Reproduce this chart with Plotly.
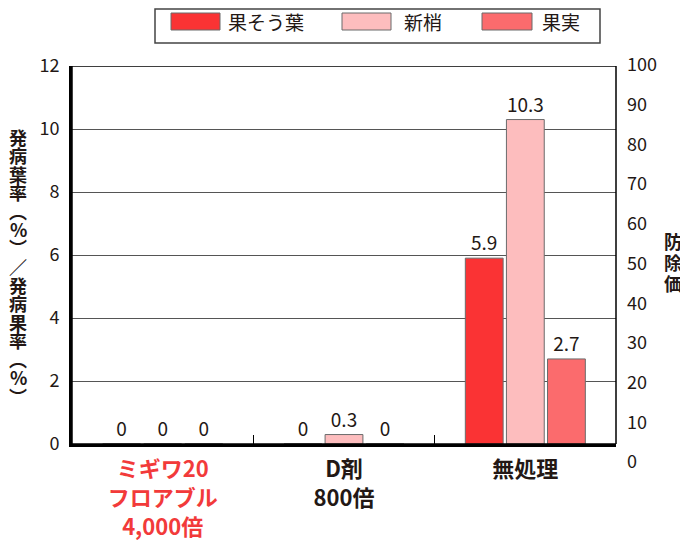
import plotly.graph_objects as go

# data
categories = ["ミギワ20<br>フロアブル<br>4,000倍", "D剤<br>800倍", "無処理"]
series_names = ["果そう葉", "新梢", "果実"]
kasou_ha = [0, 0, 5.9]
shinshou = [0, 0.3, 10.3]
kajitsu = [0, 0, 2.7]
left_ticks = [0, 2, 4, 6, 8, 10, 12]
right_ticks = [0, 10, 20, 30, 40, 50, 60, 70, 80, 90, 100]
left_title = "発病葉率︵%︶／発病果率︵%︶"
right_title = "防除価"

colors = ["#fa3334", "#fdbdbe", "#fb6b6d"]
label_colors = ["#f23a3a", "#231815", "#231815"]
FONT = "Noto Sans CJK JP"
TXT = "#231815"

# page body adds an 8px margin, so the figure is drawn smaller and
# every reference pixel position is shifted by OFF
OFF = 8
W, H = 688 - OFF, 553 - 2 * OFF
L, T = 72 - OFF, 65 - OFF
R = W - (616 - OFF)
B = H - (462 - OFF)
PW, PH = W - L - R, H - T - B


def px(x, y):
    # reference pixel -> paper coords
    return (x - OFF - L) / PW, (H - B - (y - OFF)) / PH


fig = go.Figure()
for name, vals, col in zip(series_names, [kasou_ha, shinshou, kajitsu], colors):
    fig.add_trace(go.Bar(
        x=categories, y=vals, name=name, showlegend=False,
        marker=dict(color=col, line=dict(color="#6b6b6b", width=1)),
        texttemplate="%{y}", textposition="outside",
        textfont=dict(family=FONT, size=19, color=TXT),
        cliponaxis=False,
    ))

# empty trace to carry the right axis
fig.add_trace(go.Scatter(x=categories, y=[None] * 3, yaxis="y2",
                         showlegend=False, hoverinfo="skip"))

fig.update_layout(
    width=W, height=H,
    margin=dict(l=L, r=R, t=T, b=B),
    paper_bgcolor="white", plot_bgcolor="rgba(0,0,0,0)",
    barmode="group", bargap=0.32, bargroupgap=0.08,
    font=dict(family=FONT, color=TXT),
    xaxis=dict(
        tickvals=categories,
        ticktext=[f"<span style='color:{c}'><b>{t}</b></span>"
                  for t, c in zip(categories, label_colors)],
        tickfont=dict(size=22, family=FONT),
        showline=True, linewidth=3, linecolor="black",
        ticks="inside", tickson="boundaries", ticklen=9,
        tickwidth=1.2, tickcolor="black",
        ticklabelstandoff=4,
        showgrid=False, fixedrange=True, automargin=False,
    ),
    yaxis=dict(
        domain=[(462 - 444) / PH, (462 - 66) / PH],
        range=[0, 12], tickvals=left_ticks,
        tickfont=dict(size=18),
        showline=True, linewidth=3, linecolor="black",
        showgrid=True, gridcolor="#555555", gridwidth=1.2,
        zeroline=False, ticks="", ticklabelstandoff=6, automargin=False,
    ),
    yaxis2=dict(
        domain=[0, 1], anchor="x", side="right",
        range=[0, 100], tickvals=right_ticks,
        tickfont=dict(size=18),
        showline=False, showgrid=False, zeroline=False,
        ticks="", ticklabelstandoff=10, automargin=False,
    ),
)

shapes = []
annotations = []

# top/right frame
shapes.append(dict(type="rect", xref="paper", yref="y", x0=0, x1=1, y0=0, y1=12,
                   line=dict(color="black", width=1.5), fillcolor="rgba(0,0,0,0)",
                   layer="above"))

# legend box
x0, y0 = px(155, 9)
x1, y1 = px(600, 43)
shapes.append(dict(type="rect", xref="paper", yref="paper", x0=x0, x1=x1, y0=y0, y1=y1,
                   line=dict(color="#444444", width=1.5), fillcolor="white"))
sw_x = [(171, 220), (342, 391), (482, 532)]
txt_x = [226, 402, 540]
for (a, b), tx, name, col in zip(sw_x, txt_x, series_names, colors):
    sx0, sy0 = px(a, 13)
    sx1, sy1 = px(b, 30)
    shapes.append(dict(type="rect", xref="paper", yref="paper", x0=sx0, x1=sx1,
                       y0=sy0, y1=sy1, fillcolor=col,
                       line=dict(color="#6b6b6b", width=1)))
    ax, ay = px(tx, 21.5)
    annotations.append(dict(xref="paper", yref="paper", x=ax, y=ay, text=name,
                            showarrow=False, xanchor="left", yanchor="middle",
                            font=dict(size=19, family=FONT, color=TXT)))

# left vertical title, one char per row
for i, ch in enumerate(left_title):
    ax, ay = px(18, 136.5 + 18.5 * i)
    annotations.append(dict(xref="paper", yref="paper", x=ax, y=ay, text=f"<b>{ch}</b>",
                            showarrow=False, xanchor="center", yanchor="middle",
                            font=dict(size=18, family=FONT, color=TXT)))

# right vertical title
for i, ch in enumerate(right_title):
    ax, ay = px(673, 241 + 21 * i)
    annotations.append(dict(xref="paper", yref="paper", x=ax, y=ay, text=f"<b>{ch}</b>",
                            showarrow=False, xanchor="center", yanchor="middle",
                            font=dict(size=18, family=FONT, color=TXT)))

fig.update_layout(shapes=shapes, annotations=annotations)

fig.write_html("out.html")
